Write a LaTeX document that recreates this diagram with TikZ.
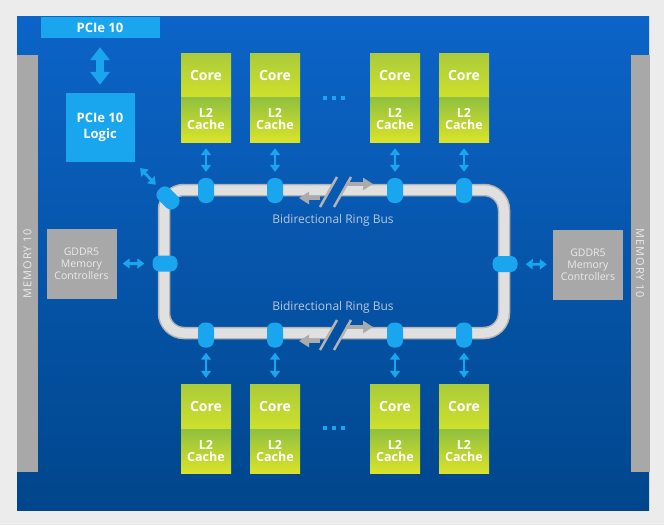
\documentclass[tikz,border=0pt]{standalone}
\usepackage{fontspec}
\setmainfont{Open Sans}
\usetikzlibrary{arrows.meta}
\definecolor{bgout}{HTML}{ECECEC}
\definecolor{bluetop}{HTML}{0C64C8}
\definecolor{bluebot}{HTML}{00468C}
\definecolor{lblue}{HTML}{1AA6EE}
\definecolor{coretop}{HTML}{AACB3A}
\definecolor{corebot}{HTML}{CFE02D}
\definecolor{cachetop}{HTML}{90C03F}
\definecolor{cachebot}{HTML}{DAE32A}
\definecolor{greybox}{HTML}{A8A8A8}
\definecolor{ringfill}{HTML}{E0E0E0}
\definecolor{ringedge}{HTML}{B4B4B4}
\definecolor{busgrey}{HTML}{ABABAB}
\definecolor{bustxt}{HTML}{B8C8DC}
\definecolor{lighttxt}{HTML}{EAEAEA}
\tikzset{
  membar/.style={fill=greybox, inner sep=0pt, text=lighttxt,
    font=\fontsize{11}{11}\selectfont\addfontfeature{LetterSpace=8}},
  lbbox/.style={fill=lblue, inner sep=0pt, text=white, align=center,
    font=\fontsize{13}{16}\selectfont\bfseries},
  corebox/.style={top color=coretop, bottom color=corebot, minimum width=50pt,
    inner sep=0pt, text=white, font=\fontsize{14}{14}\selectfont\bfseries},
  cachebox/.style={top color=cachetop, bottom color=cachebot, minimum width=50pt,
    inner sep=0pt, text=white, align=center,
    font=\fontsize{12.5}{12}\selectfont\bfseries},
  gddrbox/.style={fill=greybox, minimum width=70pt, minimum height=70pt,
    inner sep=0pt, text=lighttxt, align=center,
    font=\fontsize{10.5}{12}\selectfont},
  stopV/.style={fill=lblue, rounded corners=7pt, minimum width=16pt,
    minimum height=25pt, inner sep=0pt},
  stopH/.style={fill=lblue, rounded corners=7pt, minimum width=25pt,
    minimum height=16pt, inner sep=0pt},
  fatarrow/.style={draw=lblue, line width=8pt,
    {Triangle[width=19pt,length=13pt]}-{Triangle[width=19pt,length=13pt]}},
  smallarrow/.style={draw=lblue, line width=2.8pt,
    {Triangle[width=10pt,length=7pt]}-{Triangle[width=10pt,length=7pt]}},
  busarrow/.style={draw=busgrey, line width=4pt,
    -{Triangle[width=12pt,length=10pt]}},
  slashline/.style={draw=ringedge, line width=2.5pt},
  bustext/.style={text=bustxt, font=\fontsize{12}{12}\selectfont},
}
\begin{document}
\begin{tikzpicture}[x=1pt,y=-1pt]
\useasboundingbox (0,0) rectangle (664,525);
\fill[bgout] (0,0) rectangle (664,525);
\shade[top color=bluetop, bottom color=bluebot] (17,16) rectangle (649,510);

% memory bars
\node[membar, rotate=90, minimum width=417pt, minimum height=21pt] (memL) at (27.5,263.5) {MEMORY 10};
\node[membar, rotate=-90, minimum width=417pt, minimum height=19pt] (memR) at (640,263.5) {MEMORY 10};

% PCIe
\node[lbbox, minimum width=119pt, minimum height=21pt] (pcie) at (100,27.5) {PCIe 10};
\node[lbbox, minimum width=69pt, minimum height=69pt] (logic) at (100,127.5) {PCIe 10\\Logic};
\draw[fatarrow, shorten <=9pt, shorten >=8pt] (pcie.south) -- (logic.north);

% GDDR5 controllers
\node[gddrbox] (gL) at (81.5,263.5) {GDDR5\\Memory\\Controllers};
\node[gddrbox] (gR) at (588,264.5) {GDDR5\\Memory\\Controllers};

% ring with breaks
\begin{scope}[even odd rule]
\clip (0,0) rectangle (664,525)
  (320,207) -- (337,177) -- (351,177) -- (334,207) -- cycle
  (320,350) -- (337,320) -- (351,320) -- (334,350) -- cycle;
\draw[ringedge, line width=12.5pt, rounded corners=20pt] (164,190) rectangle (504,333);
\draw[ringfill, line width=9.5pt, rounded corners=20pt] (164,190) rectangle (504,333);
\end{scope}
\draw[slashline] (320,207) -- (337,177);
\draw[slashline] (334,207) -- (351,177);
\draw[slashline] (320,350) -- (337,320);
\draw[slashline] (334,350) -- (351,320);

\coordinate (tlA) at (320,198);
\coordinate (tlB) at (299,198);
\coordinate (trA) at (346,184);
\coordinate (trB) at (373,184);
\coordinate (blA) at (320,341);
\coordinate (blB) at (299,341);
\coordinate (brA) at (346,327);
\coordinate (brB) at (373,327);
\draw[busarrow] (tlA) -- (tlB);
\draw[busarrow] (trA) -- (trB);
\draw[busarrow] (blA) -- (blB);
\draw[busarrow] (brA) -- (brB);

\node[bustext] (busT) at (333,220) {Bidirectional Ring Bus};
\node[bustext] (busB) at (333,307) {Bidirectional Ring Bus};

% top cores
\foreach \n/\x in {1/206,2/275,3/395,4/464}{
  \node[corebox, minimum height=44pt] (tc\n) at (\x,75) {Core};
  \node[cachebox, minimum height=45pt] (tl\n) at (\x,119.5) {L2\\Cache};
  \node[stopV] (ts\n) at (\x,190.5) {};
  \draw[smallarrow, shorten <=6pt, shorten >=6pt] (tl\n.south) -- (ts\n.north);
}
% bottom cores
\foreach \n/\x in {1/206,2/275,3/395,4/464}{
  \node[corebox, minimum height=45pt] (bc\n) at (\x,406.5) {Core};
  \node[cachebox, minimum height=44pt] (bl\n) at (\x,451) {L2\\Cache};
  \node[stopV] (bs\n) at (\x,335) {};
  \draw[smallarrow, shorten <=5pt, shorten >=6pt] (bs\n.south) -- (bc\n.north);
}

% side stops
\node[stopH] (sL) at (165,263.5) {};
\node[stopH] (sR) at (505,264) {};
\node[stopV, rotate=45] (sC) at (168,198) {};
\draw[smallarrow, shorten <=6pt, shorten >=8pt] (gL.east) -- (sL.west);
\draw[smallarrow, shorten <=8pt, shorten >=6pt] (sR.east) -- (gR.west);
\draw[smallarrow, shorten <=8pt, shorten >=18pt] (logic.south east) -- (sC.center);

% ellipses
\foreach \x in {325,334,343}{
  \fill[lblue] (\x-2,96) rectangle (\x+2,100);
  \fill[lblue] (\x-2,426) rectangle (\x+2,430);
}
\end{tikzpicture}
\end{document}
